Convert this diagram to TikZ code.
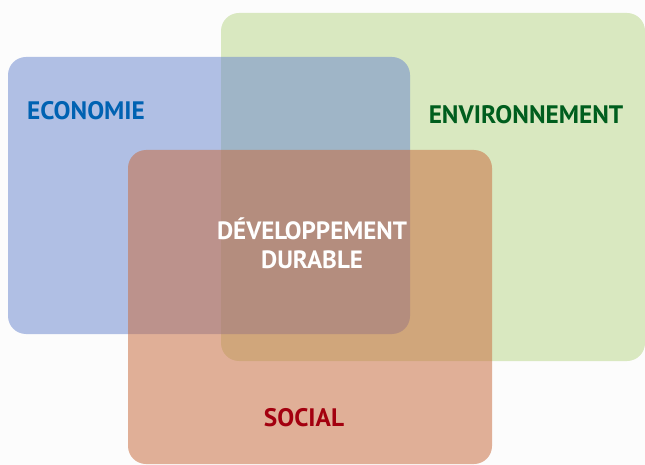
\documentclass[tikz,border=0pt]{standalone}
\usepackage{fontspec}
\setmainfont{PT Sans}
\definecolor{bgc}{HTML}{FCFCFC}
\definecolor{greenbox}{HTML}{D9E8C0}
\definecolor{bluebox}{HTML}{6684CE}
\definecolor{orangebox}{HTML}{C86A3C}
\definecolor{ecoc}{HTML}{0062B2}
\definecolor{envc}{HTML}{005E1E}
\definecolor{socc}{HTML}{A3000F}
\begin{document}
\begin{tikzpicture}[x=1pt,y=-1pt,
  boxr/.style={rounded corners=18pt},
  lbl/.style={font=\bfseries\fontsize{25.3}{28}\selectfont, inner sep=0pt}]
\useasboundingbox (0,0) rectangle (645,465);
\fill[bgc] (0,0) rectangle (645,465);
\fill[greenbox, boxr] (221,13) rectangle (645,361);
\fill[bluebox, fill opacity=0.5, boxr] (8,57) rectangle (410,334);
\fill[orangebox, fill opacity=0.52, boxr] (128,150) rectangle (492,464);
\node[lbl, text=ecoc] (eco) at (86,111) {ECONOMIE};
\node[lbl, text=envc] (env) at (526,115) {ENVIRONNEMENT};
\node[lbl, text=socc] (soc) at (304,418) {SOCIAL};
\node[lbl, text=white, align=center, font=\bfseries\fontsize{25}{29}\selectfont] (dd) at (312,243) {DÉVELOPPEMENT\\DURABLE};
\end{tikzpicture}
\end{document}
